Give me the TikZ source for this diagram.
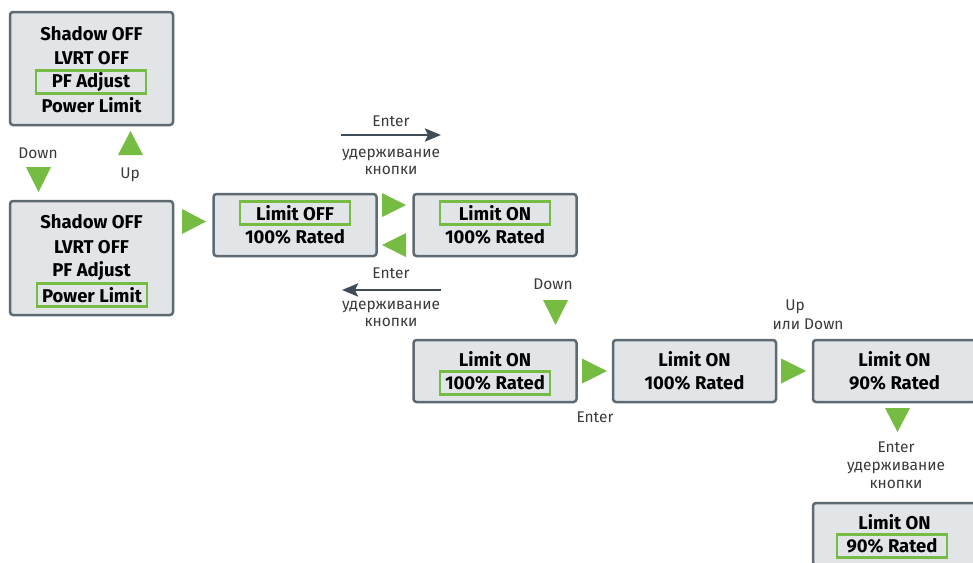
\documentclass[tikz,border=0pt]{standalone}
\usepackage{fontspec}
\setmainfont{Fira Sans}
\usetikzlibrary{arrows.meta}
\definecolor{boxfill}{HTML}{E2E5E8}
\definecolor{boxline}{HTML}{5E6A72}
\definecolor{grn}{HTML}{76BC43}
\definecolor{arr}{HTML}{3F4B56}
\definecolor{lblc}{HTML}{3A3A3A}
\tikzset{
 panel/.style={draw=boxline, fill=boxfill, line width=2.5pt, rounded corners=3pt, inner sep=0pt, minimum width=163pt},
 txt/.style={font=\bfseries\fontsize{18.5}{20}\selectfont, inner sep=0pt, anchor=center},
 hl/.style={draw=grn, line width=2.5pt, minimum width=110pt, minimum height=23pt},
 lbl/.style={font=\fontsize{15.5}{18}\selectfont, text=lblc, inner sep=0pt},
 tri/.style={fill=grn},
 darrow/.style={draw=arr, line width=2.5pt, -{Stealth[length=16pt,width=13pt,inset=3pt]}},
}
\begin{document}
\begin{tikzpicture}[x=1pt,y=-1pt]
\useasboundingbox (0,0) rectangle (973,562);
\clip (0,0) rectangle (973,562);
% panels
\node[panel, minimum height=113pt] (p1) at (91.5,68.5) {};
\node[panel, minimum height=114pt] (p2) at (91.5,258) {};
\node[panel, minimum height=62pt] (p3) at (295,225) {};
\node[panel, minimum height=62pt] (p4) at (495,225) {};
\node[panel, minimum height=62pt] (p5) at (495,371) {};
\node[panel, minimum height=62pt] (p6) at (694.5,371) {};
\node[panel, minimum height=62pt] (p7) at (894.5,371) {};
\node[panel, minimum height=62pt] (p8) at (894.5,534) {};
% panel 1
\node[txt] (a1) at (91.5,34) {Shadow OFF};
\node[txt] (a2) at (91.5,58) {LVRT OFF};
\node[txt, hl] (a3) at (91,82) {PF Adjust};
\node[txt] (a4) at (91.5,105) {Power Limit};
% panel 2
\node[txt] (b1) at (91.5,222) {Shadow OFF};
\node[txt] (b2) at (91.5,247) {LVRT OFF};
\node[txt] (b3) at (91.5,271) {PF Adjust};
\node[txt, hl] (b4) at (92,295) {Power Limit};
% panel 3
\node[txt, hl] (c1) at (295,213) {Limit OFF};
\node[txt] (c2) at (295,237) {100\% Rated};
% panel 4
\node[txt, hl] (d1) at (495,213) {Limit ON};
\node[txt] (d2) at (495,237) {100\% Rated};
% panel 5
\node[txt] (e1) at (495,359) {Limit ON};
\node[txt, hl] (e2) at (495,383) {100\% Rated};
% panel 6
\node[txt] (f1) at (694.5,359) {Limit ON};
\node[txt] (f2) at (694.5,383) {100\% Rated};
% panel 7
\node[txt] (g1) at (894.5,359) {Limit ON};
\node[txt] (g2) at (894.5,383) {90\% Rated};
% panel 8
\node[txt] (h1) at (894.5,522) {Limit ON};
\node[txt, hl] (h2) at (892,546) {90\% Rated};
% green triangles
\fill[tri] (118,155) -- (130.5,131) -- (143,155) -- cycle;
\fill[tri] (26,167) -- (51,167) -- (38.5,192) -- cycle;
\fill[tri] (182,209) -- (206,221.5) -- (182,234) -- cycle;
\fill[tri] (382,193) -- (406,205) -- (382,217) -- cycle;
\fill[tri] (406,233) -- (382,245) -- (406,257) -- cycle;
\fill[tri] (543,300) -- (568,300) -- (555.5,325) -- cycle;
\fill[tri] (582,358.5) -- (607,371) -- (582,383.5) -- cycle;
\fill[tri] (781,358.5) -- (806,371) -- (781,383.5) -- cycle;
\fill[tri] (885,408) -- (910,408) -- (897.5,432) -- cycle;
% labels
\node[lbl] (l1) at (38,153) {Down};
\node[lbl] (l2) at (130,175) {Up};
\node[lbl] (l3) at (391,121) {Enter};
\node[lbl] (l4) at (391,155) {удерживание};
\node[lbl] (l5) at (391,170) {кнопки};
\node[lbl] (l6) at (391,273) {Enter};
\node[lbl] (l7) at (391,307) {удерживание};
\node[lbl] (l8) at (391,322) {кнопки};
\node[lbl] (l9) at (553,284) {Down};
\node[lbl] (l10) at (595,417) {Enter};
\node[lbl] (l11) at (795,307) {Up};
\node[lbl] (l12) at (808,324) {или Down};
\node[lbl] (l13) at (896,447) {Enter};
\node[lbl] (l14) at (896,468) {удерживание};
\node[lbl] (l15) at (896,484) {кнопки};
% dark arrows
\coordinate (ta) at (341,135);
\coordinate (tb) at (441,135);
\coordinate (ba) at (441,290);
\coordinate (bb) at (342,290);
\draw[darrow] (ta) -- (tb);
\draw[darrow] (ba) -- (bb);
\end{tikzpicture}
\end{document}
